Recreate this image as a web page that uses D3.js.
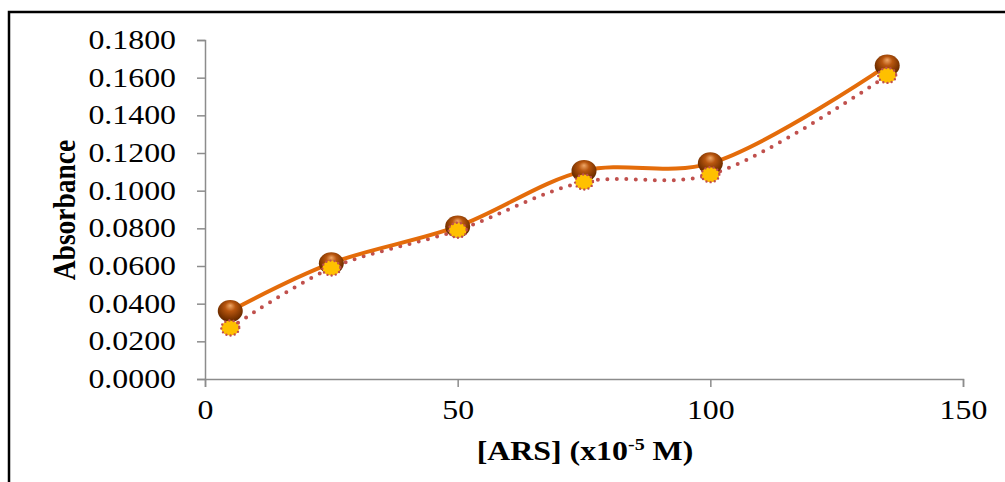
<!DOCTYPE html>
<html>
<head>
<meta charset="utf-8">
<script src="https://cdn.jsdelivr.net/npm/d3@7"></script>
<style>
    html, body { margin: 0; padding: 0; background: #fff; }
    svg { display: block; }
    text { font-family: "Liberation Serif", "Times New Roman", serif; fill: #000; }
</style>
</head>
<body>
<svg id="chart" width="1005" height="482"></svg>
<script>
(function () {
    'use strict';

    // concentrations of ARS (x10^-5 M)
    var concentrations = [5, 25, 50, 75, 100, 135];
    // absorbance, upper (solid) series
    var absorbanceA = [0.0361, 0.0615, 0.0810, 0.1105, 0.1145, 0.1665];
    // absorbance, lower (dotted) series
    var absorbanceB = [0.0271, 0.0589, 0.0790, 0.1046, 0.1085, 0.1612];
    var yTicks = [0, 0.02, 0.04, 0.06, 0.08, 0.10, 0.12, 0.14, 0.16, 0.18];
    var xTicks = [0, 50, 100, 150];

    var svg = d3.select('#chart');
    var width = 1005, height = 482;
    var stretch = 1.18; // picture is a bit wider than tall

    // widen a text horizontally, keeping its anchor
    var widen = function (sel) {
        sel.each(function () {
            var len = this.getComputedTextLength();
            d3.select(this)
                .attr('textLength', len * stretch)
                .attr('lengthAdjust', 'spacingAndGlyphs');
        });
    };

    // outer frame
    svg.append('rect')
        .attr('x', 9).attr('y', 12)
        .attr('width', width).attr('height', height)
        .attr('fill', 'none')
        .attr('stroke', '#000')
        .attr('stroke-width', 2.5);

    var defs = svg.append('defs');
    var grad = defs.append('radialGradient')
        .attr('id', 'ball')
        .attr('cx', '50%').attr('cy', '40%').attr('r', '60%')
        .attr('fx', '50%').attr('fy', '25%');
    grad.append('stop').attr('offset', '0%').attr('stop-color', '#f0a868');
    grad.append('stop').attr('offset', '35%').attr('stop-color', '#b8560f');
    grad.append('stop').attr('offset', '80%').attr('stop-color', '#7a3300');
    grad.append('stop').attr('offset', '100%').attr('stop-color', '#5a2500');

    var x = d3.scaleLinear().domain([0, 150]).range([205, 963]);
    var y = d3.scaleLinear().domain([0, 0.18]).range([379, 40]);

    var axisColor = '#8c8c8c';

    var yAxis = svg.append('g')
        .attr('transform', 'translate(' + x(0) + ',0)')
        .call(d3.axisLeft(y).tickValues(yTicks).tickSize(8).tickPadding(21)
            .tickFormat(function (d) { return d.toFixed(4); }));
    yAxis.select('.domain').attr('stroke', axisColor).attr('stroke-width', 1.5);
    yAxis.selectAll('.tick line').attr('stroke', axisColor).attr('stroke-width', 1.5);
    yAxis.selectAll('.tick text')
        .attr('font-size', 27)
        .style('font-family', '"Liberation Serif", "Times New Roman", serif')
        .attr('fill', '#000')
        .call(widen);

    var xAxis = svg.append('g')
        .attr('transform', 'translate(0,' + y(0) + ')')
        .call(d3.axisBottom(x).tickValues(xTicks).tickSize(8).tickPadding(13)
            .tickFormat(d3.format('d')));
    xAxis.select('.domain').attr('stroke', axisColor).attr('stroke-width', 1.5);
    xAxis.selectAll('.tick line').attr('stroke', axisColor).attr('stroke-width', 1.5);
    xAxis.selectAll('.tick text')
        .attr('font-size', 27)
        .style('font-family', '"Liberation Serif", "Times New Roman", serif')
        .attr('fill', '#000')
        .call(widen);

    // axis titles
    var xt = svg.append('g')
        .attr('transform', 'translate(585,460) scale(' + stretch + ',1)')
        .append('text')
        .attr('text-anchor', 'middle')
        .attr('font-size', 27)
        .attr('font-weight', 'bold');
    xt.append('tspan').text('[ARS] (x10');
    xt.append('tspan').attr('dy', -10).attr('font-size', 17).text('-5');
    xt.append('tspan').attr('dy', 10).text(' M)');

    svg.append('text')
        .attr('transform', 'translate(75,210) scale(' + stretch + ',1) rotate(-90)')
        .attr('text-anchor', 'middle')
        .attr('font-size', 27.5)
        .attr('font-weight', 'bold')
        .text('Absorbance');

    var seriesA = concentrations.map(function (c, i) { return [c, absorbanceA[i]]; });
    var seriesB = concentrations.map(function (c, i) { return [c, absorbanceB[i]]; });

    var line = d3.line()
        .x(function (d) { return x(d[0]); })
        .y(function (d) { return y(d[1]); })
        .curve(d3.curveCatmullRom.alpha(0.5));

    // dotted series
    svg.append('path')
        .datum(seriesB)
        .attr('d', line)
        .attr('fill', 'none')
        .attr('stroke', '#c0504d')
        .attr('stroke-width', 4)
        .attr('stroke-linecap', 'round')
        .attr('stroke-dasharray', '0 9.5');

    // solid series
    svg.append('path')
        .datum(seriesA)
        .attr('d', line)
        .attr('fill', 'none')
        .attr('stroke', '#e46c0a')
        .attr('stroke-width', 4);

    // sphere markers for solid series
    svg.selectAll('.ballA')
        .data(seriesA)
        .enter()
        .append('ellipse')
        .attr('class', 'ballA')
        .attr('cx', function (d) { return x(d[0]); })
        .attr('cy', function (d) { return y(d[1]); })
        .attr('rx', 12.5)
        .attr('ry', 11)
        .attr('fill', 'url(#ball)');

    // yellow markers for dotted series
    svg.selectAll('.dotB')
        .data(seriesB)
        .enter()
        .append('ellipse')
        .attr('class', 'dotB')
        .attr('cx', function (d) { return x(d[0]); })
        .attr('cy', function (d) { return y(d[1]); })
        .attr('rx', 9)
        .attr('ry', 7.5)
        .attr('fill', '#ffc000')
        .attr('stroke', '#c0504d')
        .attr('stroke-width', 2.4)
        .attr('stroke-linecap', 'round')
        .attr('stroke-dasharray', '0 4.2');
}());
</script>
</body>
</html>
